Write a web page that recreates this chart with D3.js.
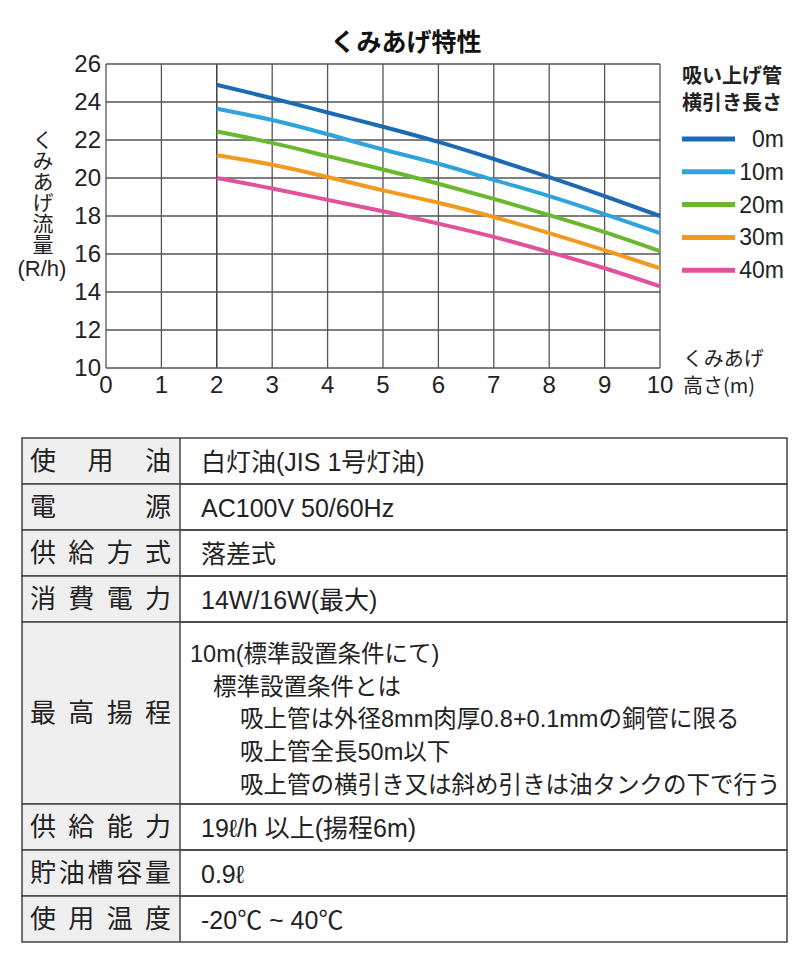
<!DOCTYPE html>
<html>
<head>
<meta charset="utf-8">
<script src="https://cdn.jsdelivr.net/npm/d3@7"></script>
<style>
  body { margin: 0; background: #fff; }
  svg text { font-family: "Liberation Sans", "Noto Sans CJK JP", sans-serif; }
  .jp { font-family: "Noto Sans CJK JP", sans-serif; }
</style>
</head>
<body>
<div id="chart"></div>
<script>
// くみあげ高さ (m)
var heights = [2, 3, 4, 5, 6, 7, 8, 9, 10];
// 吸い上げ管横引き長さ
var series = ['0m', '10m', '20m', '30m', '40m'];
var colors = ['#1c6ab4', '#2ea3dc', '#6ab82e', '#f29a1f', '#e0539b'];
// くみあげ流量 (R/h) per series
var flow0 = [24.9, 24.2, 23.45, 22.7, 21.9, 21.0, 20.05, 19.05, 18.0];
var flow10 = [23.65, 23.05, 22.3, 21.5, 20.75, 19.9, 19.05, 18.1, 17.1];
var flow20 = [22.45, 21.85, 21.15, 20.45, 19.7, 18.9, 18.05, 17.15, 16.15];
var flow30 = [21.2, 20.7, 20.05, 19.35, 18.7, 17.95, 17.1, 16.2, 15.25];
var flow40 = [20.0, 19.45, 18.85, 18.25, 17.6, 16.9, 16.1, 15.25, 14.3];
var xTicks = [0, 1, 2, 3, 4, 5, 6, 7, 8, 9, 10];
var yTicks = [10, 12, 14, 16, 18, 20, 22, 24, 26];

// spec table
var specLabels = ['使用油', '電源', '供給方式', '消費電力', '最高揚程', '供給能力', '貯油槽容量', '使用温度'];
var specValues = [
  ['白灯油(JIS 1号灯油)'],
  ['AC100V 50/60Hz'],
  ['落差式'],
  ['14W/16W(最大)'],
  ['10m(標準設置条件にて)', '標準設置条件とは', '吸上管は外径8mm肉厚0.8+0.1mmの銅管に限る', '吸上管全長50m以下', '吸上管の横引き又は斜め引きは油タンクの下で行う'],
  ['19ℓ/h 以上(揚程6m)'],
  ['0.9ℓ'],
  ['-20℃ ~ 40℃']
];
var specIndent = [0, 1, 2, 2, 2];

var flows = [flow0, flow10, flow20, flow30, flow40];

var W = 800, H = 953;
var svg = d3.select('#chart').append('svg').attr('width', W).attr('height', H);

var plot = {left: 106, right: 660, top: 64, bottom: 368};
var x = d3.scaleLinear().domain([0, 10]).range([plot.left, plot.right]);
var y = d3.scaleLinear().domain([10, 26]).range([plot.bottom, plot.top]);

// title
svg.append('text').attr('class', 'jp')
    .attr('x', 406).attr('y', 51)
    .attr('text-anchor', 'middle')
    .attr('font-size', 25).attr('font-weight', 'bold').attr('fill', '#111')
    .text('くみあげ特性');

// grid
var g = svg.append('g');
g.selectAll('line.vx').data(xTicks).enter().append('line')
    .attr('x1', function(d){ return x(d); }).attr('x2', function(d){ return x(d); })
    .attr('y1', plot.top).attr('y2', plot.bottom)
    .attr('stroke', function(d){ return d === 2 ? '#222' : '#555'; })
    .attr('stroke-width', 1.3);
g.selectAll('line.hy').data(yTicks).enter().append('line')
    .attr('y1', function(d){ return y(d); }).attr('y2', function(d){ return y(d); })
    .attr('x1', plot.left).attr('x2', plot.right)
    .attr('stroke', '#555').attr('stroke-width', 1.3);

// tick labels
g.selectAll('text.yt').data(yTicks).enter().append('text')
    .attr('x', plot.left - 5).attr('y', function(d){ return y(d) + 8; })
    .attr('text-anchor', 'end').attr('font-size', 24).attr('fill', '#222')
    .text(function(d){ return d; });
g.selectAll('text.xt').data(xTicks).enter().append('text')
    .attr('x', function(d){ return x(d); }).attr('y', plot.bottom + 25)
    .attr('text-anchor', 'middle').attr('font-size', 24).attr('fill', '#222')
    .text(function(d){ return d; });

// y axis label (vertical)
svg.append('text').attr('class', 'jp')
    .attr('x', 43).attr('y', 129)
    .style('writing-mode', 'vertical-rl')
    .attr('font-size', 21).attr('fill', '#222')
    .text('くみあげ流量');
svg.append('text')
    .attr('x', 42).attr('y', 276)
    .attr('text-anchor', 'middle').attr('font-size', 22).attr('fill', '#222')
    .text('(R/h)');

// x axis label
svg.append('text').attr('class', 'jp')
    .attr('x', 683).attr('y', 366).attr('font-size', 20).attr('fill', '#222')
    .text('くみあげ');
svg.append('text').attr('class', 'jp')
    .attr('x', 683).attr('y', 393).attr('font-size', 20).attr('fill', '#222')
    .text('高さ(m)');

// curves
var line = d3.line()
    .x(function(d, i){ return x(heights[i]); })
    .y(function(d){ return y(d); })
    .curve(d3.curveNatural);
svg.append('g').selectAll('path').data(flows).enter().append('path')
    .attr('d', line)
    .attr('fill', 'none')
    .attr('stroke', function(d, i){ return colors[i]; })
    .attr('stroke-width', 4);

// legend
svg.append('text').attr('class', 'jp')
    .attr('x', 682).attr('y', 83).attr('font-size', 20).attr('font-weight', 'bold').attr('fill', '#222')
    .text('吸い上げ管');
svg.append('text').attr('class', 'jp')
    .attr('x', 682).attr('y', 110).attr('font-size', 20).attr('font-weight', 'bold').attr('fill', '#222')
    .text('横引き長さ');
var leg = svg.append('g').selectAll('g').data(series).enter().append('g')
    .attr('transform', function(d, i){ return 'translate(0,' + (139 + i * 32.8) + ')'; });
leg.append('line')
    .attr('x1', 682).attr('x2', 735).attr('y1', 0).attr('y2', 0)
    .attr('stroke', function(d, i){ return colors[i]; }).attr('stroke-width', 5);
leg.append('text')
    .attr('x', 784).attr('y', 8).attr('text-anchor', 'end')
    .attr('font-size', 23).attr('fill', '#222')
    .text(function(d){ return d; });

// spec table
var tbl = {left: 22, mid: 180, right: 787, top: 438};
var rowH = specValues.map(function(v){ return v.length > 1 ? 182 : 46; });
var rowY = [];
var acc = tbl.top;
rowH.forEach(function(h){ rowY.push(acc); acc += h; });

var rows = svg.append('g').selectAll('g').data(specLabels).enter().append('g')
    .attr('transform', function(d, i){ return 'translate(0,' + rowY[i] + ')'; });
rows.append('rect')
    .attr('x', tbl.left).attr('y', 0).attr('width', tbl.mid - tbl.left)
    .attr('height', function(d, i){ return rowH[i]; })
    .attr('fill', '#efefef');
rows.append('rect')
    .attr('x', tbl.left).attr('y', 0).attr('width', tbl.right - tbl.left)
    .attr('height', function(d, i){ return rowH[i]; })
    .attr('fill', 'none').attr('stroke', '#444').attr('stroke-width', 1.5);
rows.append('line')
    .attr('x1', tbl.mid).attr('x2', tbl.mid).attr('y1', 0)
    .attr('y2', function(d, i){ return rowH[i]; })
    .attr('stroke', '#444').attr('stroke-width', 1.5);

// labels: characters spread over the label cell
rows.each(function(label, i){
  var chars = label.split('');
  var x0 = 30 + 13, x1 = 170 - 12;
  var step = chars.length > 1 ? (x1 - x0) / (chars.length - 1) : 0;
  d3.select(this).selectAll('text.lb').data(chars).enter().append('text').attr('class', 'jp')
      .attr('x', function(c, k){ return x0 + k * step; })
      .attr('y', rowH[i] / 2 + 9)
      .attr('text-anchor', 'middle').attr('font-size', 26).attr('fill', '#222')
      .text(function(c){ return c; });
});

// values
rows.each(function(label, i){
  var lines = specValues[i];
  var multi = lines.length > 1;
  d3.select(this).selectAll('text.val').data(lines).enter().append('text')
      .attr('x', function(t, k){ return multi ? 190 + [0, 23, 50][specIndent[k]] : 201; })
      .attr('y', function(t, k){ return multi ? 40 + k * 32.7 : 33; })
      .attr('font-size', multi ? 23.5 : 25).attr('fill', '#222')
      .text(function(t){ return t; });
});
</script>
</body>
</html>
